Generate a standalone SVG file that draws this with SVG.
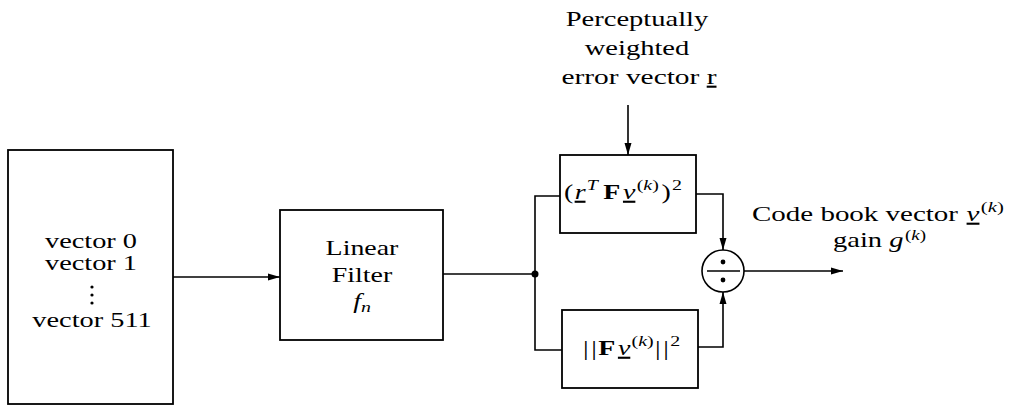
<svg xmlns="http://www.w3.org/2000/svg" width="1014" height="408" viewBox="0 0 1014 408">
<style>
.box{fill:none;stroke:#000;stroke-width:1.8}
.ln{fill:none;stroke:#000;stroke-width:1.6}
.t{font-family:"Liberation Serif","Times New Roman",serif;font-size:21px;fill:#000}
.c{text-anchor:middle}
.i{font-style:italic}
.b{font-weight:bold}
.u{text-decoration:underline}
.s{font-size:15px}
.s2{font-size:14px}
</style>
<defs>
<marker id="ah" viewBox="0 0 12 8" refX="12" refY="4" markerWidth="12" markerHeight="8" markerUnits="userSpaceOnUse" orient="auto">
<path d="M0,0.5 L12,4 L0,7.5 Z" fill="#000"/>
</marker>
</defs>
<g id="codebook">
<rect class="box" x="8" y="150" width="165" height="254"/>
<text class="t c" transform="translate(91,248) scale(1.35,1)">vector 0</text>
<text class="t c" transform="translate(91,270) scale(1.35,1)">vector 1</text>
<circle cx="92" cy="287" r="1.6"/><circle cx="92" cy="295" r="1.6"/><circle cx="92" cy="303" r="1.6"/>
<text class="t c" transform="translate(92,327) scale(1.35,1)">vector 511</text>
</g>
<g id="filter">
<rect class="box" x="280" y="210" width="163" height="130"/>
<text class="t c" transform="translate(362,255) scale(1.33,1)">Linear</text>
<text class="t c" transform="translate(362,282) scale(1.33,1)">Filter</text>
<text class="t c i" transform="translate(362,308) scale(1.33,1)">f<tspan class="s" dy="4">n</tspan></text>
</g>
<g id="numerator">
<rect class="box" x="560" y="155" width="136" height="78"/>
<text class="t" transform="translate(564,199) scale(1.33,1)">(<tspan class="i u" dx="1">r</tspan><tspan class="i s" dy="-9" dx="1">T</tspan><tspan class="b" dy="9" dx="4">F</tspan><tspan class="i u" dx="2">v</tspan><tspan class="s" dy="-9" dx="1">(</tspan><tspan class="s i">k</tspan><tspan class="s">)</tspan><tspan dy="9" dx="2">)</tspan><tspan class="s" dy="-9" dx="1">2</tspan></text>
</g>
<g id="denominator">
<rect class="box" x="562" y="310" width="136" height="78"/>
<text class="t" transform="translate(583,355) scale(1.33,1)">|<tspan dx="2">|</tspan><tspan class="b" dx="1">F</tspan><tspan class="i u" dx="2">v</tspan><tspan class="s" dy="-9" dx="1">(</tspan><tspan class="s i">k</tspan><tspan class="s">)</tspan><tspan dy="9" dx="1">|</tspan><tspan dx="2">|</tspan><tspan class="s" dy="-9" dx="1">2</tspan></text>
</g>
<g id="divider">
<circle class="ln" cx="723" cy="271" r="21"/>
<line class="ln" x1="707" y1="271" x2="740" y2="271"/>
<circle cx="723" cy="262" r="2.4"/><circle cx="723" cy="280" r="2.4"/>
</g>
<g id="input-label">
<text class="t c" transform="translate(637,26) scale(1.36,1)">Perceptually</text>
<text class="t c" transform="translate(637,55) scale(1.36,1)">weighted</text>
<text class="t c" transform="translate(639,84) scale(1.4,1)">error vector <tspan class="u">r</tspan></text>
</g>
<g id="output-label">
<text class="t" transform="translate(752,221) scale(1.38,1)">Code book vector <tspan class="i u" dx="1">v</tspan><tspan class="s" dy="-9" dx="1">(</tspan><tspan class="s i">k</tspan><tspan class="s">)</tspan></text>
<text class="t" transform="translate(833,247) scale(1.36,1)">gain <tspan class="i">g</tspan><tspan class="s2" dy="-7" dx="1">(</tspan><tspan class="s2 i">k</tspan><tspan class="s2">)</tspan></text>
</g>
<g id="connectors">
<line class="ln" x1="173" y1="277" x2="280" y2="277" marker-end="url(#ah)"/>
<polyline class="ln" points="443,274 535,274"/>
<polyline class="ln" points="560,196 535,196 535,350 562,350"/>
<circle cx="535" cy="274" r="3.5"/>
<line class="ln" x1="628" y1="105" x2="628" y2="155" marker-end="url(#ah)"/>
<polyline class="ln" points="696,194 723,194 723,250" marker-end="url(#ah)"/>
<polyline class="ln" points="698,347 723,347 723,292" marker-end="url(#ah)"/>
<line class="ln" x1="744" y1="271" x2="843" y2="271" marker-end="url(#ah)"/>
</g>
</svg>
